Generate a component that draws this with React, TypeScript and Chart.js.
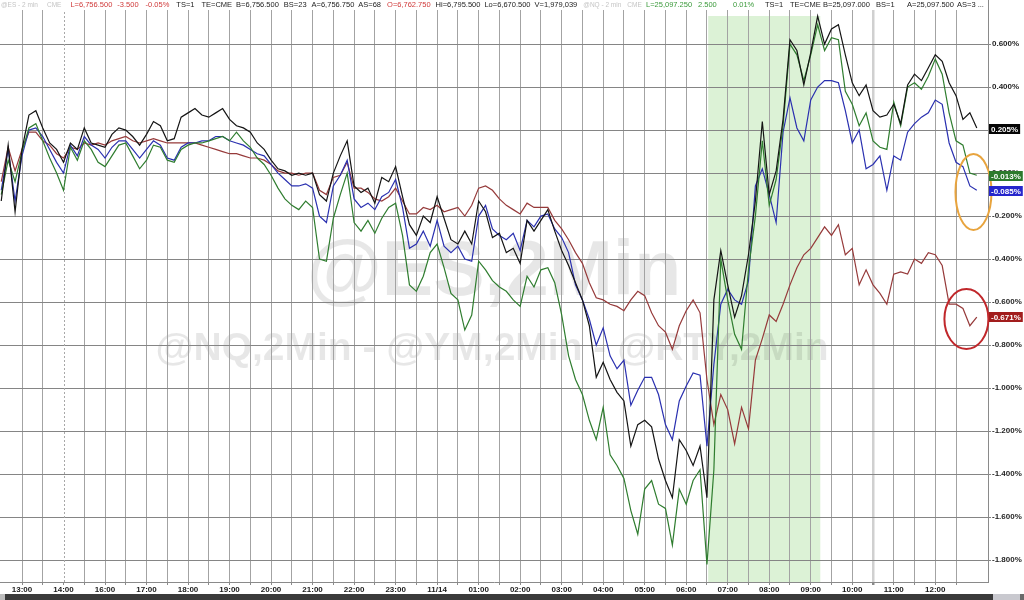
import React, { useEffect, useRef } from 'react';
import { Chart, registerables } from 'chart.js';

Chart.register(...registerables);

// Time axis: hours counted from the 13:00 tick (session break between 14:00 and 16:00 collapsed)
const FIRST_SAMPLE_HOUR = -0.5;
const SAMPLE_STEP_HOURS = 1 / 6; // one reading every 10 minutes

// % change series
const ES = [-0.13,0.13,-0.18,0.11,0.27,0.29,0.21,0.14,0.11,0.05,
0.14,0.11,0.21,0.14,0.13,0.12,0.18,0.21,0.20,0.17,
0.13,0.18,0.24,0.22,0.15,0.16,0.26,0.28,0.30,0.27,
0.26,0.28,0.30,0.25,0.22,0.21,0.19,0.14,0.11,0.06,
0.02,0.01,-0.01,0.00,-0.01,0.00,-0.10,-0.13,0.00,0.08,
0.15,-0.06,-0.09,-0.07,-0.14,-0.02,-0.04,0.03,-0.11,-0.24,
-0.29,-0.20,-0.23,-0.11,-0.21,-0.31,-0.33,-0.27,-0.33,-0.13,
-0.18,-0.30,-0.28,-0.37,-0.35,-0.42,-0.22,-0.27,-0.22,-0.17,
-0.27,-0.36,-0.43,-0.51,-0.59,-0.71,-0.95,-0.88,-0.96,-1.02,
-1.06,-1.27,-1.17,-1.15,-1.18,-1.33,-1.43,-1.51,-1.24,-1.29,
-1.36,-1.27,-1.51,-0.59,-0.36,-0.52,-0.67,-0.57,-0.38,-0.13,
0.24,-0.10,0.01,0.25,0.62,0.57,0.41,0.56,0.73,0.60,
0.67,0.69,0.55,0.42,0.36,0.41,0.29,0.26,0.27,0.32,
0.23,0.41,0.46,0.43,0.49,0.55,0.52,0.42,0.36,0.25,
0.28,0.21];

const NQ = [-0.10,0.06,-0.04,0.10,0.21,0.23,0.15,0.07,0.00,-0.08,
0.12,0.06,0.15,0.11,0.05,0.03,0.08,0.13,0.14,0.08,
0.02,0.06,0.13,0.12,0.06,0.05,0.11,0.13,0.14,0.14,
0.15,0.16,0.17,0.15,0.19,0.15,0.12,0.07,0.04,-0.01,
-0.07,-0.12,-0.15,-0.17,-0.13,-0.16,-0.40,-0.41,-0.21,-0.10,
0.00,-0.23,-0.27,-0.22,-0.28,-0.21,-0.16,-0.14,-0.29,-0.52,
-0.55,-0.48,-0.37,-0.33,-0.44,-0.56,-0.59,-0.73,-0.66,-0.41,
-0.45,-0.50,-0.53,-0.55,-0.59,-0.62,-0.48,-0.53,-0.45,-0.44,
-0.51,-0.66,-0.85,-0.96,-1.03,-1.15,-1.24,-1.09,-1.31,-1.36,
-1.42,-1.57,-1.68,-1.47,-1.43,-1.54,-1.56,-1.73,-1.47,-1.54,
-1.43,-1.38,-1.82,-1.38,-0.40,-0.59,-0.75,-0.82,-0.45,-0.20,
0.15,-0.15,-0.03,0.22,0.60,0.55,0.43,0.55,0.69,0.57,
0.63,0.62,0.38,0.32,0.22,0.28,0.15,0.12,0.11,0.33,
0.22,0.40,0.42,0.39,0.45,0.53,0.46,0.28,0.15,0.13,
0.00,-0.01];

const YM = [-0.08,0.11,-0.13,0.08,0.20,0.21,0.17,0.11,0.05,0.00,
0.13,0.08,0.17,0.13,0.11,0.07,0.12,0.15,0.15,0.11,
0.07,0.11,0.15,0.13,0.07,0.06,0.12,0.14,0.14,0.15,
0.15,0.17,0.17,0.15,0.14,0.13,0.11,0.09,0.08,0.04,
0.00,-0.03,-0.06,-0.06,-0.05,-0.07,-0.20,-0.23,-0.06,-0.01,
0.06,-0.12,-0.16,-0.14,-0.17,-0.11,-0.09,-0.03,-0.16,-0.35,
-0.33,-0.27,-0.34,-0.22,-0.34,-0.37,-0.34,-0.40,-0.41,-0.20,
-0.15,-0.26,-0.29,-0.31,-0.28,-0.36,-0.22,-0.25,-0.20,-0.19,
-0.26,-0.30,-0.37,-0.52,-0.59,-0.68,-0.80,-0.72,-0.85,-0.91,
-0.87,-1.08,-1.01,-0.95,-0.95,-1.03,-1.17,-1.24,-1.06,-0.99,
-0.93,-0.94,-1.27,-0.89,-0.61,-0.54,-0.59,-0.61,-0.50,-0.06,
0.02,-0.10,-0.23,0.19,0.35,0.21,0.15,0.34,0.40,0.43,
0.43,0.42,0.29,0.14,0.20,0.02,0.04,0.08,-0.08,0.08,
0.06,0.19,0.23,0.26,0.28,0.34,0.32,0.14,0.05,0.03,
-0.06,-0.08];

const RTY = [-0.04,0.12,0.01,0.11,0.19,0.19,0.15,0.13,0.09,0.07,
0.12,0.11,0.14,0.13,0.14,0.13,0.15,0.16,0.17,0.15,
0.14,0.15,0.16,0.15,0.14,0.14,0.14,0.14,0.14,0.13,
0.12,0.11,0.10,0.09,0.09,0.08,0.07,0.07,0.06,0.04,
0.01,0.00,0.00,-0.01,0.00,0.00,-0.08,-0.10,-0.02,-0.01,
0.05,-0.07,-0.07,-0.09,-0.12,-0.13,-0.11,-0.07,-0.13,-0.19,
-0.19,-0.16,-0.17,-0.15,-0.18,-0.17,-0.16,-0.20,-0.15,-0.07,
-0.06,-0.08,-0.12,-0.15,-0.17,-0.19,-0.14,-0.16,-0.16,-0.16,
-0.22,-0.26,-0.31,-0.37,-0.42,-0.51,-0.58,-0.59,-0.61,-0.62,
-0.64,-0.59,-0.55,-0.57,-0.65,-0.71,-0.74,-0.82,-0.71,-0.64,
-0.59,-0.65,-0.96,-1.17,-1.03,-1.10,-1.26,-1.09,-1.19,-0.87,
-0.77,-0.66,-0.69,-0.61,-0.52,-0.44,-0.38,-0.35,-0.30,-0.25,
-0.29,-0.24,-0.38,-0.35,-0.52,-0.45,-0.52,-0.56,-0.61,-0.47,
-0.46,-0.47,-0.40,-0.42,-0.37,-0.38,-0.43,-0.61,-0.61,-0.63,
-0.71,-0.67];

const SERIES = [ES, NQ, YM, RTY];
const SERIES_NAMES = ['@ES', '@NQ', '@YM', '@RTY'];
const SERIES_COLORS = ['#141414', '#2f7d2f', '#2a30b0', '#963a3a'];
const LAST_VALUES = [0.205, -0.013, -0.085, -0.671];
const LAST_LABELS = ['0.205%', '-0.013%', '-0.085%', '-0.671%'];
const BOX_COLORS = ['#050505', '#2c7a2c', '#2626cc', '#a21d1d'];

const HOUR_LABELS = ['13:00','14:00','16:00','17:00','18:00','19:00','20:00','21:00','22:00','23:00','11/14','01:00','02:00','03:00','04:00','05:00','06:00','07:00','08:00','09:00','10:00','11:00','12:00'];
const Y_TICK_VALUES = [0.6, 0.4, 0.2, 0, -0.2, -0.4, -0.6, -0.8, -1, -1.2, -1.4, -1.6, -1.8];

const X_MIN = -0.53;
const X_MAX = 23.27;
const Y_MIN = -1.902;
const Y_MAX = 0.805;
const SESSION_BREAK_HOUR = 1;
const MARKER_HOUR = 20.5;
const HIGHLIGHT_START = 16.53;
const HIGHLIGHT_END = 19.23;

// header quote line: [text, gap before (px), colour key]; first group flows from the left edge
const HEADER_GROUP_A: [string, number, string][] = [
  ['@ES - 2 min', 1, 'muted'], ['CME', 9, 'muted'],
  ['L=6,756.500', 9, 'down'], ['-3.500', 5, 'down'], ['-0.05%', 7, 'down'],
  ['TS=1', 7, 'plain'], ['TE=CME', 7, 'plain'], ['B=6,756.500', 4, 'plain'],
  ['BS=23', 5, 'plain'], ['A=6,756.750', 5, 'plain'], ['AS=68', 4, 'plain'],
  ['O=6,762.750', 6, 'down'], ['Hi=6,795.500', 5, 'plain'], ['Lo=6,670.500', 4, 'plain'],
  ['V=1,979,039', 4, 'plain'], ['@NQ - 2 min', 6, 'muted'], ['CME', 6, 'muted'],
];
// second group sits at fixed columns
const HEADER_GROUP_B: [string, number, string][] = [
  ['L=25,097.250', 646, 'up'], ['2.500', 698, 'up'], ['0.01%', 733, 'up'],
  ['TS=1', 765, 'plain'], ['TE=CME', 790, 'plain'], ['B=25,097.000', 823, 'plain'],
  ['BS=1', 876, 'plain'], ['A=25,097.500', 907, 'plain'], ['AS=3 ...', 957, 'plain'],
];
const HEADER_COLORS: Record<string, string> = { muted: '#c4c4c4', down: '#d03a3a', up: '#3c9a3c', plain: '#1c1c1c' };

const RINGS = [
  { hour: 22.92, value: -0.088, rx: 18, ry: 38, color: '#e8a43e' },
  { hour: 22.75, value: -0.679, rx: 22, ry: 30, color: '#c0272b' },
];

const FONT = '"Liberation Sans", Arial, sans-serif';

const decorPlugin = {
  id: 'decor',
  beforeDraw(chart: any) {
    const { ctx, chartArea, scales } = chart;
    const x = scales.x;
    ctx.save();
    ctx.fillStyle = '#ffffff';
    ctx.fillRect(0, 0, chart.width, chart.height);
    const bx0 = x.getPixelForValue(HIGHLIGHT_START);
    const bx1 = x.getPixelForValue(HIGHLIGHT_END);
    ctx.fillStyle = '#dcf2d6';
    ctx.fillRect(bx0, 16, bx1 - bx0, chartArea.bottom - 16);
    ctx.fillStyle = 'rgba(0,0,0,0.095)';
    ctx.textAlign = 'center';
    ctx.textBaseline = 'alphabetic';
    ctx.font = `bold 77px ${FONT}`;
    ctx.fillText('@ES,2Min', 494, 295);
    ctx.font = `bold 39px ${FONT}`;
    ctx.fillText('@NQ,2Min - @YM,2Min - @RTY,2Min', 492, 360);
    ctx.restore();
  },
  beforeDatasetsDraw(chart: any) {
    const { ctx, chartArea, scales } = chart;
    const px = Math.round(scales.x.getPixelForValue(SESSION_BREAK_HOUR)) + 0.5;
    ctx.save();
    ctx.strokeStyle = '#a8a8a8';
    ctx.lineWidth = 1;
    ctx.setLineDash([2, 2]);
    ctx.beginPath();
    ctx.moveTo(px, chartArea.top);
    ctx.lineTo(px, chartArea.bottom);
    ctx.stroke();
    ctx.restore();
  },
  afterDraw(chart: any) {
    const { ctx, chartArea, scales } = chart;
    ctx.save();
    ctx.fillStyle = '#ffffff';
    ctx.fillRect(0, 0, chartArea.right, 10);
    ctx.textBaseline = 'middle';
    ctx.textAlign = 'left';
    let cx = 0;
    HEADER_GROUP_A.forEach(([t, gap, c]) => {
      ctx.font = c === 'muted' ? `6.5px ${FONT}` : `7.5px ${FONT}`;
      cx += gap;
      ctx.fillStyle = HEADER_COLORS[c];
      ctx.fillText(t, cx, 5);
      cx += ctx.measureText(t).width;
    });
    ctx.font = `7.5px ${FONT}`;
    HEADER_GROUP_B.forEach(([t, px, c]) => {
      ctx.fillStyle = HEADER_COLORS[c];
      ctx.fillText(t, px, 5);
    });
    RINGS.forEach((r) => {
      ctx.strokeStyle = r.color;
      ctx.lineWidth = 2;
      ctx.beginPath();
      ctx.ellipse(scales.x.getPixelForValue(r.hour), scales.y.getPixelForValue(r.value), r.rx, r.ry, 0, 0, Math.PI * 2);
      ctx.stroke();
    });
    ctx.font = `bold 8px ${FONT}`;
    LAST_VALUES.forEach((v, i) => {
      const cy = scales.y.getPixelForValue(v);
      const w = ctx.measureText(LAST_LABELS[i]).width + 4;
      ctx.fillStyle = BOX_COLORS[i];
      ctx.fillRect(chartArea.right + 1, Math.round(cy) - 5, w, 10);
      ctx.fillStyle = '#ffffff';
      ctx.fillText(LAST_LABELS[i], chartArea.right + 3, Math.round(cy) + 0.5);
    });
    ctx.fillStyle = '#3b3b3b';
    ctx.fillRect(5, 594, 988, 6);
    ctx.fillStyle = '#bdbdbd';
    ctx.fillRect(0, 594, 5, 6);
    ctx.fillStyle = '#c9c9cf';
    ctx.fillRect(993, 594, 27, 6);
    ctx.fillStyle = '#6a6a6a';
    ctx.fillRect(1020, 594, 4, 6);
    ctx.restore();
  },
};

export default function App() {
  const canvasRef = useRef<HTMLCanvasElement | null>(null);

  useEffect(() => {
    const canvas = canvasRef.current;
    if (!canvas) return;
    const gridHours: number[] = [];
    for (let h = 0; h <= 22.5; h += 0.5) gridHours.push(h);

    const chart = new Chart(canvas, {
      type: 'line',
      data: {
        datasets: SERIES.map((vals, si) => ({
          label: SERIES_NAMES[si],
          data: vals.map((v, i) => ({ x: FIRST_SAMPLE_HOUR + i * SAMPLE_STEP_HOURS, y: v })),
          borderColor: SERIES_COLORS[si],
          borderWidth: 1.2,
          pointRadius: 0,
          tension: 0,
          fill: false,
        })),
      },
      options: {
        responsive: false,
        maintainAspectRatio: false,
        devicePixelRatio: 1,
        animation: false,
        events: [],
        layout: { padding: 0 },
        plugins: { legend: { display: false }, tooltip: { enabled: false }, title: { display: false } },
        scales: {
          x: {
            type: 'linear',
            min: X_MIN,
            max: X_MAX,
            afterBuildTicks: (s: any) => { s.ticks = gridHours.map((value) => ({ value })); },
            afterFit: (s: any) => { s.height = 18; s.paddingLeft = 0; s.paddingRight = 0; },
            ticks: {
              autoSkip: false,
              maxRotation: 0,
              minRotation: 0,
              padding: 0,
              color: '#1a1a1a',
              font: { family: FONT, size: 8, weight: 'bold' },
              callback: (v: any) => (Number.isInteger(v) ? HOUR_LABELS[v] ?? '' : ''),
            },
            grid: {
              color: (c: any) => {
                const v = c.tick?.value;
                if (v === SESSION_BREAK_HOUR) return 'rgba(0,0,0,0)';
                if (v === MARKER_HOUR) return '#d0d0d0';
                return '#a3a3a3';
              },
              lineWidth: (c: any) => (c.tick?.value === MARKER_HOUR ? 2.5 : 1),
              tickLength: 3,
              tickColor: '#8a8a8a',
            },
            border: { display: true, color: '#8a8a8a' },
          },
          y: {
            type: 'linear',
            position: 'right',
            min: Y_MIN,
            max: Y_MAX,
            afterBuildTicks: (s: any) => { s.ticks = Y_TICK_VALUES.map((value) => ({ value })); },
            afterFit: (s: any) => { s.width = 36; s.paddingTop = 0; s.paddingBottom = 0; },
            ticks: {
              padding: 1,
              color: '#1f1f1f',
              font: { family: FONT, size: 8, weight: 'bold' },
              callback: (v: any) => `${Number(v).toFixed(3)}%`,
            },
            grid: { color: '#858585', lineWidth: 1, tickLength: 3, tickColor: '#858585' },
            border: { display: true, color: '#8a8a8a' },
          },
        },
      } as any,
      plugins: [decorPlugin],
    });
    return () => chart.destroy();
  }, []);

  return (
    <div style={{ position: 'fixed', left: 0, top: 0, width: 1024, height: 600, background: '#fff' }}>
      <canvas ref={canvasRef} width={1024} height={600} style={{ display: 'block', width: 1024, height: 600 }} />
    </div>
  );
}
